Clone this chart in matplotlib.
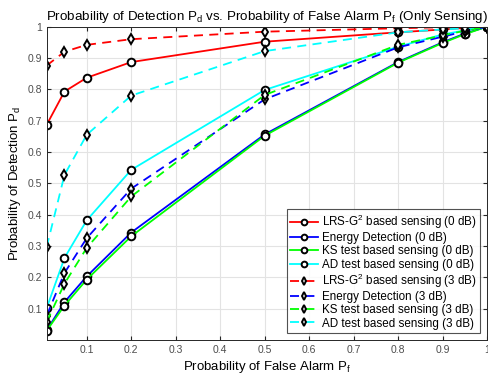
import numpy as np
import matplotlib.pyplot as plt

plt.rcParams['font.family'] = ['Liberation Sans', 'DejaVu Sans']
plt.rcParams['mathtext.fontset'] = 'custom'
plt.rcParams['mathtext.rm'] = 'Liberation Sans'
plt.rcParams['mathtext.it'] = 'Liberation Sans'

pf = [0.01, 0.05, 0.1, 0.2, 0.5, 0.8, 0.9, 0.95, 1.0]

# 0 dB
lrs_0 = [0.687, 0.793, 0.837, 0.887, 0.952, 0.982, 0.991, 0.996, 1.0]
ed_0 = [0.031, 0.121, 0.203, 0.343, 0.656, 0.887, 0.950, 0.978, 1.0]
ks_0 = [0.030, 0.110, 0.193, 0.331, 0.652, 0.885, 0.948, 0.976, 1.0]
ad_0 = [0.102, 0.262, 0.382, 0.543, 0.798, 0.936, 0.975, 0.988, 1.0]

# 3 dB
lrs_3 = [0.876, 0.920, 0.942, 0.960, 0.984, 0.995, 0.998, 0.999, 1.0]
ed_3 = [0.078, 0.214, 0.325, 0.483, 0.768, 0.934, 0.968, 0.985, 1.0]
ks_3 = [0.058, 0.180, 0.294, 0.458, 0.782, 0.942, 0.972, 0.987, 1.0]
ad_3 = [0.297, 0.527, 0.655, 0.780, 0.922, 0.982, 0.991, 0.995, 1.0]

labels = ['LRS-G$^2$ based sensing (0 dB)', 'Energy Detection (0 dB)',
          'KS test based sensing (0 dB)', 'AD test based sensing (0 dB)',
          'LRS-G$^2$ based sensing (3 dB)', 'Energy Detection (3 dB)',
          'KS test based sensing (3 dB)', 'AD test based sensing (3 dB)']
colors = ['#ff0000', '#0000ff', '#00ff00', '#00ffff']

fig = plt.figure(figsize=(4.89, 3.81), dpi=100)
ax = fig.add_axes([0.0955, 0.1076, 0.9005, 0.8224])

series0 = [lrs_0, ed_0, ks_0, ad_0]
series3 = [lrs_3, ed_3, ks_3, ad_3]
for i in range(4):
    ax.plot(pf, series0[i], '-', color=colors[i], linewidth=1.3, marker='o',
            markersize=5.5, markeredgecolor='k', markerfacecolor='white',
            markeredgewidth=1.4, label=labels[i])
for i in range(4):
    ax.plot(pf, series3[i], '--', color=colors[i], linewidth=1.3, marker='d',
            markersize=5.0, markeredgecolor='k', markerfacecolor='white',
            markeredgewidth=1.4, dashes=(5, 3.5), label=labels[4 + i])

ax.set_xlim(0.01, 1)
ax.set_ylim(0, 1)
ax.set_xticks(np.arange(1, 11) / 10)
ax.set_xticklabels(['0.1', '0.2', '0.3', '0.4', '0.5', '0.6', '0.7', '0.8', '0.9', '1'])
ax.set_yticks(np.arange(1, 11) / 10)
ax.set_yticklabels(['0.1', '0.2', '0.3', '0.4', '0.5', '0.6', '0.7', '0.8', '0.9', '1'])
ax.grid(True, color='#e3e3e3', linewidth=0.8)
ax.set_axisbelow(True)
ax.tick_params(direction='in', length=3, labelsize=7.5, colors='#262626',
               top=True, right=True, labelcolor='#4d4d4d')
for s in ax.spines.values():
    s.set_color('#262626')
    s.set_linewidth(0.7)

ax.set_title('Probability of Detection P$_\\mathregular{d}$ vs. Probability of False Alarm P$_\\mathregular{f}$ (Only Sensing)',
             fontsize=9.6, pad=5)
ax.set_xlabel('Probability of False Alarm P$_\\mathregular{f}$', fontsize=9.5, labelpad=3)
ax.set_ylabel('Probability of Detection P$_\\mathregular{d}$', fontsize=9.5, labelpad=3)

leg = ax.legend(loc='lower right', fontsize=8.4, frameon=True, fancybox=False,
                edgecolor='#262626', handlelength=2.4, borderpad=0.3,
                labelspacing=0.1, handletextpad=0.3, borderaxespad=0.6,
                markerscale=0.75)
leg.get_frame().set_linewidth(0.8)

fig.savefig('out.png', dpi=100)
